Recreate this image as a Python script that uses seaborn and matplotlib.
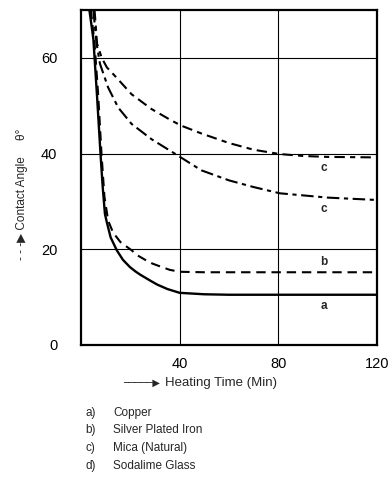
import matplotlib
matplotlib.use("Agg")
import matplotlib.pyplot as plt
import pandas as pd
import seaborn as sns

# ---- data ----
time_a = [3.4, 5, 6.5, 7.9, 8.8, 9.7, 10.4, 12, 14.5, 17, 19.8, 22, 24, 27.9, 31, 35, 40, 50, 60, 80, 100, 120]
angle_a = [70, 64, 52, 40, 33, 27.4, 25.8, 22.5, 19.8, 17.8, 16.3, 15.4, 14.7, 13.5, 12.6, 11.7, 10.9, 10.6, 10.5, 10.5, 10.5, 10.5]

time_b = [4, 5.5, 7, 8.3, 9.5, 11, 13, 16, 20.5, 23, 26, 29, 32.7, 36, 40, 50, 60, 80, 100, 120]
angle_b = [70, 63, 52, 40, 31, 26, 23.5, 21.5, 19.8, 18.7, 17.8, 17.0, 16.3, 15.7, 15.3, 15.2, 15.2, 15.2, 15.2, 15.2]

time_c = [5, 6.3, 7.7, 11, 15.1, 20.5, 28.6, 38, 48.8, 60, 70, 80.6, 100, 120]
angle_c = [70, 63, 58.75, 53.8, 49.6, 46.2, 43, 40, 36.5, 34.4, 33, 31.7, 30.8, 30.3]

time_d = [5.5, 6.5, 8.4, 10.5, 13.8, 20.5, 28.6, 36.7, 40.8, 48.8, 60, 70, 80.6, 90, 100, 120]
angle_d = [70, 63, 60, 58, 56.2, 52.4, 49.3, 46.9, 45.8, 44.2, 42.2, 40.8, 39.9, 39.5, 39.3, 39.2]

curve_labels = ["c", "c", "b", "a"]
curve_label_y = [37.0, 28.4, 17.3, 8.15]
curve_label_x = 98.5

x_ticks = [40, 80, 120]
y_ticks = [0, 20, 40, 60]

legend_keys = ["a)", "b)", "c)", "d)"]
legend_names = ["Copper", "Silver Plated Iron", "Mica (Natural)", "Sodalime Glass"]

# ---- style ----
sns.set_style("white")
plt.rcParams['font.family'] = ['Liberation Sans', 'DejaVu Sans']

W, H = 392, 480
fig = plt.figure(figsize=(W / 100, H / 100), dpi=100)
ax = fig.add_axes([81 / W, 1 - 345 / H, 296 / W, 335 / H])

series = [
    (time_a, angle_a, "-", 1.7),
    (time_b, angle_b, (0, (4.5, 2.8)), 1.5),
    (time_c, angle_c, (0, (6, 2.2, 2, 2.2)), 1.5),
    (time_d, angle_d, (0, (5, 2.5, 2.5, 2.5)), 1.5),
]
for t, v, ls, lw in series:
    df = pd.DataFrame({"time": t, "angle": v})
    sns.lineplot(data=df, x="time", y="angle", ax=ax, color="black",
                 linestyle=ls, linewidth=lw, estimator=None, sort=False)

ax.set_xlim(0, 120)
ax.set_ylim(0, 70)
ax.set_xticks(x_ticks)
ax.set_yticks(y_ticks)
ax.set_xticklabels([str(x) for x in x_ticks])
ax.set_yticklabels([str(y) for y in y_ticks])
ax.tick_params(axis="both", length=0, labelsize=10.5, colors="black")
ax.tick_params(axis="y", pad=17)
ax.tick_params(axis="x", pad=9)
ax.set_xlabel("")
ax.set_ylabel("")
for s in ax.spines.values():
    s.set_color("black")
    s.set_linewidth(1.6)
for x in [40, 80]:
    ax.axvline(x, color="black", lw=0.8, zorder=0)
for y in [20, 40, 60]:
    ax.axhline(y, color="black", lw=0.8, zorder=0)

for lab, yv in zip(curve_labels, curve_label_y):
    ax.text(curve_label_x, yv, lab, ha="center", va="center", fontsize=8.5,
            fontweight="bold")

# axis titles
fig.text(22 / W, 1 - 194 / H, "- - -\u25B6 Contact Angle     \u03B8\u00B0", rotation=90,
         ha="center", va="center", fontsize=8.5)
fig.text(142 / W, 1 - 383 / H, "\u2500\u2500\u2500\u2500\u2500\u25B6", ha="center", va="center",
         fontsize=7, family=["DejaVu Sans"])
fig.text(165 / W, 1 - 383 / H, "Heating Time (Min)", ha="left", va="center", fontsize=9.5)

# legend block
rows_y = [413, 430, 448, 466]
for k, n, yy in zip(legend_keys, legend_names, rows_y):
    fig.text(85 / W, 1 - yy / H, k, ha="left", va="center", fontsize=8.5)
    fig.text(113 / W, 1 - yy / H, n, ha="left", va="center", fontsize=8.5)

fig.savefig("out.png", dpi=100, facecolor="white")
